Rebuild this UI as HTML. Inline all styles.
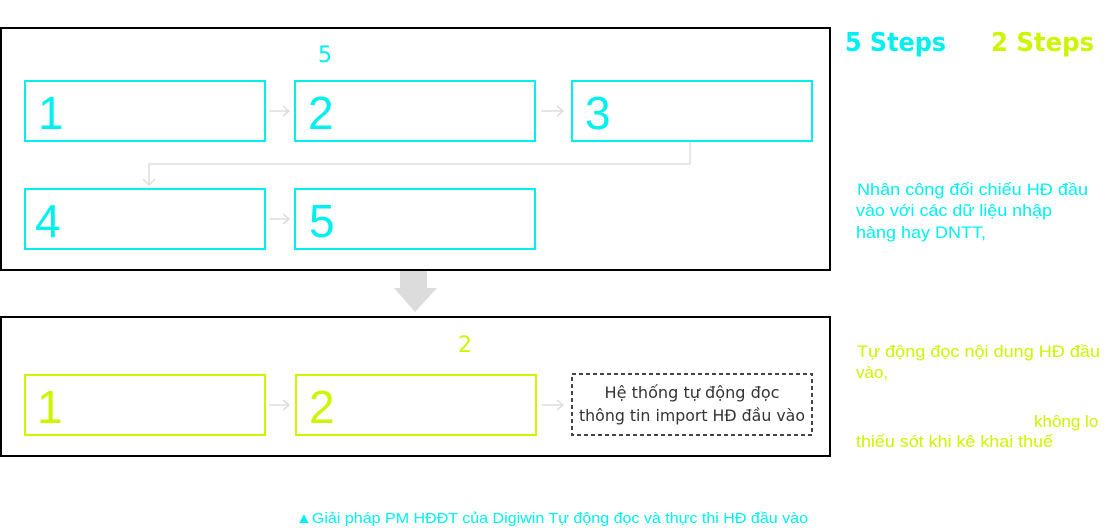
<!DOCTYPE html>
<html><head><meta charset="utf-8"><style>
body{margin:0;width:1105px;height:528px;background:#fff;overflow:hidden}
svg{display:block}
</style></head><body>
<svg width="1105" height="528" xmlns="http://www.w3.org/2000/svg" font-family="Liberation Sans, DejaVu Sans, sans-serif">
<rect x="1" y="28" width="829" height="242" fill="none" stroke="#000" stroke-width="2"/>
<rect x="1" y="317" width="829" height="139" fill="none" stroke="#000" stroke-width="2"/>
<g fill="none" stroke="#00f0f0" stroke-width="2">
<rect x="25" y="81" width="240" height="60"/>
<rect x="295" y="81" width="240" height="60"/>
<rect x="572" y="81" width="240" height="60"/>
<rect x="25" y="189" width="240" height="60"/>
<rect x="295" y="189" width="240" height="60"/>
</g>
<g fill="none" stroke="#ccf500" stroke-width="2">
<rect x="25" y="375" width="240" height="60"/>
<rect x="296" y="375" width="240" height="60"/>
</g>
<rect x="572" y="374" width="240" height="61" fill="none" stroke="#444" stroke-width="2" stroke-dasharray="4,3"/>
<g fill="none" stroke="#ddd" stroke-width="1.5">
<path d="M269 111h20M283 106l6 5-6 5"/>
<path d="M541 111h22M557 106l6 5-6 5"/>
<path d="M269 219h20M283 214l6 5-6 5"/>
<path d="M269 405h20M283 400l6 5-6 5"/>
<path d="M542 405h21M557 400l6 5-6 5"/>
<path d="M690 142v22H149v21M143 179l6 6 6-6"/>
</g>
<polygon points="400,271 427,271 427,288 437,288 415,312 394,288 400,288" fill="#dcdcdc"/>
<g fill="#00f0f0">
<text x="318" y="62" font-size="22" font-family="DejaVu Sans, sans-serif">5</text>
<text x="38" y="129" font-size="46">1</text>
<text x="308" y="129" font-size="46">2</text>
<text x="585" y="129" font-size="46">3</text>
<text x="35" y="237" font-size="46">4</text>
<text x="309" y="237" font-size="46">5</text>
<text x="845" y="51" font-size="26" font-weight="bold" font-family="DejaVu Sans, sans-serif" textLength="101" lengthAdjust="spacingAndGlyphs">5 Steps</text>
<text x="857" y="195" font-size="17" textLength="231" lengthAdjust="spacingAndGlyphs">Nhân công đối chiếu HĐ đầu</text>
<text x="856" y="216" font-size="17" textLength="196" lengthAdjust="spacingAndGlyphs">vào với các dữ liệu nhập</text>
<text x="856" y="238" font-size="17" textLength="130" lengthAdjust="spacingAndGlyphs">hàng hay DNTT,</text>
<text x="296" y="523" font-size="15" textLength="512" lengthAdjust="spacingAndGlyphs">▲Giải pháp PM HĐĐT của Digiwin Tự động đọc và thực thi HĐ đầu vào</text>
</g>
<g fill="#ccf500">
<text x="458" y="352" font-size="22" font-family="DejaVu Sans, sans-serif">2</text>
<text x="37" y="423" font-size="46">1</text>
<text x="309" y="423" font-size="46">2</text>
<text x="991" y="51" font-size="26" font-weight="bold" font-family="DejaVu Sans, sans-serif" textLength="103" lengthAdjust="spacingAndGlyphs">2 Steps</text>
<text x="857" y="357" font-size="17" textLength="243" lengthAdjust="spacingAndGlyphs">Tự động đọc nội dung HĐ đầu</text>
<text x="856" y="378" font-size="17">vào,</text>
<text x="1034" y="427" font-size="17">không lo</text>
<text x="856" y="447" font-size="17" textLength="197" lengthAdjust="spacingAndGlyphs">thiếu sót khi kê khai thuế</text>
</g>
<g fill="#333" text-anchor="middle" font-family="DejaVu Sans, sans-serif">
<text x="692" y="398" font-size="16" textLength="175" lengthAdjust="spacingAndGlyphs">Hệ thống tự động đọc</text>
<text x="692" y="421" font-size="16" textLength="226" lengthAdjust="spacingAndGlyphs">thông tin import HĐ đầu vào</text>
</g>
</svg>
</body></html>
